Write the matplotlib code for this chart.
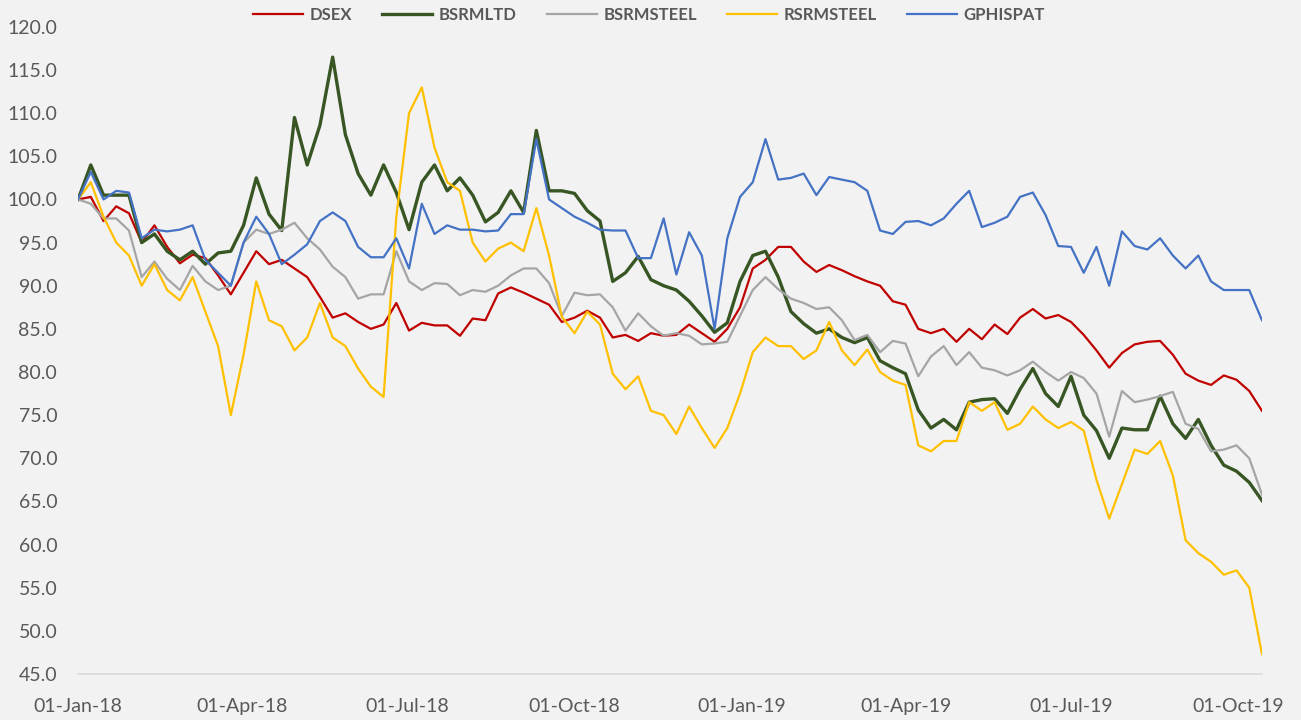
import numpy as np
import pandas as pd
import matplotlib
matplotlib.use("Agg")
import matplotlib.pyplot as plt
import matplotlib.dates as mdates
from matplotlib.ticker import FormatStrFormatter

# weekly readings, rebased to 100 on 01-Jan-18
dates = pd.date_range("2018-01-01", periods=94, freq="7D")

dsex = [100, 100.3, 97.5, 99.2, 98.4, 95, 97, 94.5, 92.6, 93.6,
        93.2, 91.2, 89, 91.5, 94, 92.5, 93, 92, 91, 88.7,
        86.3, 86.8, 85.8, 85, 85.5, 88, 84.8, 85.7, 85.4, 85.4,
        84.2, 86.2, 86, 89.1, 89.8, 89.2, 88.5, 87.8, 85.8, 86.3,
        87.1, 86.3, 84, 84.3, 83.6, 84.5, 84.2, 84.3, 85.5, 84.5,
        83.5, 85, 87.5, 92, 93, 94.5, 94.5, 92.8, 91.6, 92.4,
        91.8, 91.1, 90.5, 90, 88.2, 87.8, 85, 84.5, 85, 83.5,
        85, 83.8, 85.5, 84.4, 86.3, 87.3, 86.2, 86.6, 85.8, 84.3,
        82.5, 80.5, 82.2, 83.2, 83.5, 83.6, 82, 79.8, 79, 78.5,
        79.6, 79.1, 77.8, 75.5]

bsrmltd = [100, 104, 100.5, 100.5, 100.5, 95, 96, 94, 93, 94,
           92.5, 93.8, 94, 97, 102.5, 98.3, 96.4, 109.5, 104, 108.6,
           116.5, 107.5, 103, 100.5, 104, 100.8, 96.5, 102, 104, 101,
           102.5, 100.5, 97.4, 98.5, 101, 98.5, 108, 101, 101, 100.7,
           98.7, 97.5, 90.5, 91.5, 93.4, 90.7, 90, 89.5, 88.2, 86.5,
           84.6, 85.7, 90.5, 93.5, 94, 91, 87, 85.6, 84.5, 85,
           84, 83.4, 84, 81.3, 80.5, 79.8, 75.6, 73.5, 74.5, 73.3,
           76.5, 76.8, 76.9, 75.2, 78, 80.4, 77.5, 76, 79.5, 75,
           73.2, 70, 73.5, 73.3, 73.3, 77.2, 74, 72.3, 74.5, 71.5,
           69.2, 68.5, 67.2, 65.1]

bsrmsteel = [100, 99.5, 97.8, 97.8, 96.4, 91, 92.8, 90.8, 89.5, 92.3,
             90.5, 89.5, 90, 95, 96.5, 96, 96.5, 97.3, 95.5, 94.2,
             92.2, 91, 88.5, 89, 89, 94, 90.5, 89.5, 90.3, 90.2,
             88.9, 89.5, 89.3, 90, 91.2, 92, 92, 90.3, 86.5, 89.2,
             88.9, 89, 87.5, 84.8, 86.8, 85.3, 84.2, 84.5, 84.2, 83.2,
             83.3, 83.5, 86.5, 89.5, 91, 89.6, 88.5, 88, 87.3, 87.5,
             86, 83.7, 84.3, 82.3, 83.6, 83.3, 79.5, 81.8, 83, 80.8,
             82.3, 80.5, 80.2, 79.6, 80.2, 81.2, 80, 79, 80, 79.3,
             77.5, 72.5, 77.8, 76.5, 76.8, 77.2, 77.7, 74, 73.4, 70.8,
             71, 71.5, 70, 65.8]

rsrmsteel = [100, 102, 98, 95, 93.5, 90, 92.5, 89.5, 88.3, 91,
             87, 83, 75, 82, 90.5, 86, 85.3, 82.5, 84, 88,
             84, 83, 80.4, 78.3, 77.1, 98, 110, 113, 106, 102,
             101, 95, 92.8, 94.3, 95, 94, 99, 93.5, 86.4, 84.5,
             87, 85.5, 79.8, 78, 79.5, 75.5, 75, 72.8, 76, 73.5,
             71.2, 73.5, 77.5, 82.3, 84, 83, 83, 81.5, 82.5, 85.8,
             82.5, 80.8, 82.6, 80, 79, 78.5, 71.5, 70.8, 72, 72,
             76.5, 75.5, 76.5, 73.3, 74, 76, 74.5, 73.5, 74.2, 73.2,
             67.5, 63, 67, 71, 70.5, 72, 68, 60.5, 59, 58,
             56.5, 57, 55, 47.3]

gphispat = [100, 103.2, 100, 101, 100.8, 95.5, 96.5, 96.3, 96.5, 97,
            93, 91.5, 90, 95, 98, 96, 92.5, 93.6, 94.8, 97.5,
            98.5, 97.5, 94.5, 93.3, 93.3, 95.5, 92, 99.5, 96, 97,
            96.5, 96.5, 96.3, 96.4, 98.3, 98.3, 107, 100, 99, 98,
            97.3, 96.5, 96.4, 96.4, 93.2, 93.2, 97.8, 91.3, 96.2, 93.5,
            85, 95.5, 100.3, 102, 107, 102.3, 102.5, 103, 100.5, 102.6,
            102.3, 102, 101, 96.4, 96, 97.4, 97.5, 97, 97.8, 99.5,
            101, 96.8, 97.3, 98, 100.3, 100.8, 98.2, 94.6, 94.5, 91.5,
            94.5, 90, 96.3, 94.6, 94.2, 95.5, 93.5, 92, 93.5, 90.5,
            89.5, 89.5, 89.5, 86]

names = ["DSEX", "BSRMLTD", "BSRMSTEEL", "RSRMSTEEL", "GPHISPAT"]
colors = ["#C00000", "#375623", "#A5A5A5", "#FFC000", "#4472C4"]
widths = [1.6, 2.4, 1.6, 1.6, 1.6]
series = [dsex, bsrmltd, bsrmsteel, rsrmsteel, gphispat]

plt.rcParams['font.family'] = ['Lato', 'DejaVu Sans']
bg = "#F2F2F2"
txt = "#595959"

fig = plt.figure(figsize=(13.01, 7.2), dpi=100, facecolor=bg)
ax = fig.add_axes([0.06, 0.064, 0.910, 0.8986])
ax.set_facecolor(bg)

for s, n, c, w in zip(series, names, colors, widths):
    ax.plot(dates, s, color=c, lw=w, label=n, solid_joinstyle="round")

ax.set_ylim(45, 120)
ax.set_yticks(np.arange(45, 121, 5))
ax.yaxis.set_major_formatter(FormatStrFormatter("%.1f"))
ax.set_xlim(dates[0], dates[-1])
ax.xaxis.set_major_locator(mdates.MonthLocator(bymonth=[1, 4, 7, 10], bymonthday=1))
ax.xaxis.set_major_formatter(mdates.DateFormatter("%d-%b-%y"))

for sp in ["top", "right", "left"]:
    ax.spines[sp].set_visible(False)
ax.spines["bottom"].set_color("#D9D9D9")
ax.spines["bottom"].set_linewidth(1.2)
ax.tick_params(axis="both", length=0, labelsize=14, colors=txt)
ax.tick_params(axis="y", pad=15)
ax.tick_params(axis="x", pad=17)

fig.legend(loc="center", bbox_to_anchor=(0.499, 0.979), ncol=5, frameon=False,
           prop={"weight": "bold", "size": 12}, labelcolor=txt,
           handlelength=3.0, handletextpad=0.4, columnspacing=1.8)

fig.savefig("out.png", dpi=100, facecolor=bg)
